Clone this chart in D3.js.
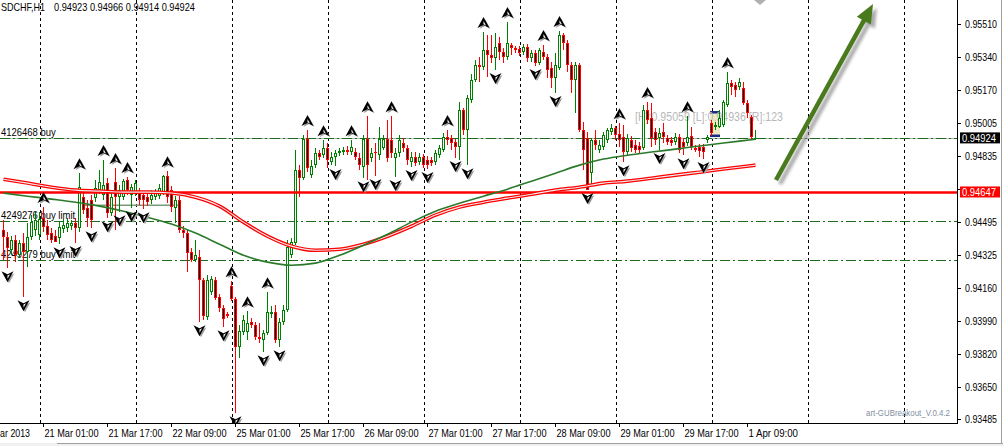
<!DOCTYPE html>
<html><head><meta charset="utf-8">
<script src="https://cdn.jsdelivr.net/npm/d3@7"></script>
<style>body{margin:0;background:#fff;overflow:hidden}svg{display:block;font-family:"Liberation Sans",Arial,sans-serif}</style>
</head><body><svg id="c" width="1003" height="446"></svg>
<script>
const symbolTitle = "SDCHF,H1";
const lastQuote = ["0.94923","0.94966","0.94914","0.94924"];
const opens = [0.94454,0.94418,0.94351,0.94403,0.94325,0.94388,0.94341,0.94418,0.94454,0.94428,0.94515,0.94474,0.94439,0.94423,0.94413,0.94459,0.94464,0.94474,0.94490,0.94464,0.94623,0.94567,0.94608,0.94618,0.94659,0.94633,0.94695,0.94541,0.94700,0.94623,0.94623,0.94710,0.94633,0.94649,0.94644,0.94633,0.94623,0.94608,0.94623,0.94628,0.94649,0.94731,0.94659,0.94567,0.94608,0.94454,0.94439,0.94341,0.94300,0.94315,0.94197,0.94008,0.94136,0.94197,0.94110,0.94054,0.94023,0.94167,0.94100,0.93854,0.93931,0.93931,0.93982,0.93967,0.93905,0.93890,0.93926,0.94023,0.94034,0.93890,0.93982,0.94044,0.94325,0.94388,0.94761,0.94720,0.94920,0.94736,0.94787,0.94849,0.94838,0.94874,0.94802,0.94828,0.94849,0.94854,0.94864,0.94854,0.94854,0.94823,0.94777,0.94920,0.94823,0.94854,0.94838,0.94874,0.94920,0.94915,0.94823,0.94849,0.94900,0.94874,0.94802,0.94828,0.94802,0.94828,0.94813,0.94813,0.94802,0.94838,0.94864,0.94931,0.94926,0.94905,0.94879,0.95069,0.94967,0.95120,0.95223,0.95300,0.95289,0.95377,0.95351,0.95336,0.95413,0.95367,0.95341,0.95402,0.95387,0.95382,0.95367,0.95392,0.95336,0.95361,0.95310,0.95367,0.95341,0.95284,0.95233,0.95284,0.95454,0.95413,0.95300,0.95223,0.95300,0.94967,0.94926,0.94746,0.94915,0.94864,0.94879,0.94915,0.94956,0.94977,0.94946,0.94931,0.94854,0.94915,0.94890,0.94885,0.94874,0.95069,0.95028,0.94956,0.94926,0.94956,0.94926,0.94915,0.94905,0.94931,0.94905,0.94900,0.94936,0.94874,0.94879,0.94879,0.94915,0.95002,0.94982,0.94982,0.94992,0.95095,0.95208,0.95197,0.95187,0.95182,0.95105,0.95033,0.94923];
const highs = [0.94505,0.94444,0.94423,0.94428,0.94403,0.94439,0.94490,0.94531,0.94546,0.94546,0.94572,0.94505,0.94464,0.94454,0.94495,0.94510,0.94515,0.94505,0.94515,0.94746,0.94659,0.94608,0.94633,0.94710,0.94761,0.94813,0.94720,0.94649,0.94772,0.94684,0.94715,0.94726,0.94690,0.94710,0.94669,0.94654,0.94644,0.94659,0.94664,0.94690,0.94736,0.94756,0.94679,0.94628,0.94628,0.94474,0.94454,0.94362,0.94403,0.94351,0.94208,0.94223,0.94218,0.94213,0.94126,0.94069,0.94034,0.94192,0.94110,0.93967,0.94018,0.94039,0.94003,0.93982,0.93977,0.93941,0.94136,0.94064,0.94069,0.94003,0.94069,0.94403,0.94413,0.94864,0.94787,0.94941,0.94967,0.94813,0.94874,0.94864,0.94915,0.94900,0.94854,0.94864,0.94874,0.94879,0.94885,0.94915,0.94874,0.94849,0.94941,0.95038,0.94874,0.94900,0.94982,0.94941,0.95018,0.95038,0.94874,0.94941,0.94926,0.94890,0.94854,0.94854,0.94849,0.94844,0.94833,0.94828,0.94864,0.94890,0.94951,0.94967,0.94941,0.94920,0.95110,0.95079,0.95146,0.95254,0.95325,0.95341,0.95469,0.95454,0.95454,0.95464,0.95443,0.95387,0.95520,0.95413,0.95397,0.95397,0.95408,0.95408,0.95377,0.95377,0.95387,0.95402,0.95356,0.95315,0.95361,0.95474,0.95464,0.95428,0.95315,0.95315,0.95310,0.95008,0.94956,0.94926,0.94967,0.94915,0.94956,0.94977,0.94997,0.94987,0.95002,0.94992,0.94946,0.94936,0.94915,0.94905,0.95095,0.95110,0.95105,0.94977,0.94977,0.95002,0.94941,0.94931,0.94951,0.94946,0.94926,0.95038,0.94982,0.94890,0.94895,0.94895,0.94941,0.95018,0.95008,0.95069,0.95120,0.95264,0.95223,0.95213,0.95233,0.95213,0.95120,0.95043,0.94966];
const lows = [0.94300,0.94259,0.94325,0.94290,0.94310,0.94110,0.94264,0.94403,0.94423,0.94403,0.94444,0.94403,0.94388,0.94398,0.94382,0.94439,0.94444,0.94454,0.94388,0.94444,0.94536,0.94469,0.94464,0.94597,0.94638,0.94608,0.94515,0.94526,0.94454,0.94546,0.94608,0.94633,0.94567,0.94628,0.94582,0.94561,0.94577,0.94587,0.94608,0.94613,0.94633,0.94592,0.94546,0.94490,0.94439,0.94413,0.94239,0.94290,0.94290,0.93982,0.93992,0.93992,0.94120,0.94095,0.94034,0.93956,0.94003,0.94090,0.93516,0.93798,0.93915,0.93890,0.93951,0.93890,0.93875,0.93829,0.93915,0.94003,0.93875,0.93854,0.93967,0.94034,0.94310,0.94377,0.94623,0.94710,0.94751,0.94720,0.94772,0.94813,0.94823,0.94772,0.94787,0.94782,0.94833,0.94838,0.94838,0.94838,0.94813,0.94761,0.94720,0.94710,0.94802,0.94731,0.94813,0.94864,0.94802,0.94823,0.94726,0.94828,0.94854,0.94787,0.94777,0.94782,0.94787,0.94772,0.94767,0.94782,0.94787,0.94823,0.94854,0.94890,0.94864,0.94823,0.94813,0.94941,0.94787,0.95105,0.95213,0.95213,0.95274,0.95238,0.95310,0.95274,0.95325,0.95310,0.95325,0.95351,0.95361,0.95346,0.95351,0.95315,0.95315,0.95295,0.95300,0.95325,0.95233,0.95182,0.95156,0.95274,0.95377,0.95264,0.95156,0.95054,0.94956,0.94761,0.94659,0.94679,0.94864,0.94849,0.94864,0.94900,0.94941,0.94915,0.94879,0.94802,0.94838,0.94854,0.94849,0.94849,0.94864,0.94997,0.94879,0.94890,0.94864,0.94900,0.94890,0.94885,0.94890,0.94849,0.94838,0.94885,0.94864,0.94854,0.94828,0.94818,0.94900,0.94936,0.94967,0.94977,0.94982,0.95084,0.95146,0.95136,0.95172,0.95095,0.95028,0.94915,0.94914];
const closes = [0.94418,0.94362,0.94403,0.94325,0.94388,0.94341,0.94418,0.94495,0.94505,0.94510,0.94469,0.94428,0.94403,0.94392,0.94469,0.94480,0.94490,0.94490,0.94464,0.94674,0.94556,0.94515,0.94505,0.94669,0.94700,0.94684,0.94541,0.94623,0.94623,0.94659,0.94705,0.94659,0.94674,0.94695,0.94608,0.94608,0.94597,0.94633,0.94644,0.94669,0.94731,0.94623,0.94572,0.94608,0.94454,0.94439,0.94336,0.94300,0.94325,0.94197,0.94013,0.94197,0.94203,0.94105,0.94054,0.93997,0.94013,0.94100,0.93854,0.93936,0.93992,0.93977,0.93967,0.93905,0.93895,0.93926,0.94034,0.94034,0.93890,0.93982,0.94044,0.94367,0.94392,0.94761,0.94720,0.94920,0.94772,0.94782,0.94849,0.94828,0.94874,0.94813,0.94828,0.94849,0.94859,0.94864,0.94854,0.94879,0.94828,0.94787,0.94920,0.94787,0.94849,0.94849,0.94920,0.94920,0.94823,0.94849,0.94849,0.94915,0.94874,0.94813,0.94828,0.94797,0.94828,0.94787,0.94787,0.94797,0.94849,0.94874,0.94931,0.94915,0.94900,0.94879,0.95069,0.94967,0.95131,0.95223,0.95300,0.95289,0.95377,0.95351,0.95336,0.95392,0.95367,0.95341,0.95413,0.95387,0.95377,0.95361,0.95392,0.95336,0.95361,0.95310,0.95377,0.95341,0.95274,0.95233,0.95300,0.95454,0.95413,0.95300,0.95223,0.95300,0.94967,0.94864,0.94659,0.94915,0.94890,0.94890,0.94941,0.94967,0.94977,0.94941,0.94915,0.94854,0.94926,0.94874,0.94864,0.94864,0.95069,0.95018,0.94926,0.94915,0.94951,0.94931,0.94905,0.94900,0.94931,0.94864,0.94879,0.94931,0.94879,0.94864,0.94859,0.94854,0.94931,0.94951,0.94992,0.95028,0.95110,0.95208,0.95187,0.95172,0.95213,0.95105,0.95054,0.94931,0.94924];
const upFractals = [10,19,25,28,31,41,57,61,66,76,80,87,91,97,111,120,126,135,139,154,161,171,181];
const downFractals = [1,5,14,18,22,26,29,32,35,49,55,58,65,69,83,90,93,98,102,106,113,116,123,133,138,146,155,164,170,175];
const maBars = [0,6,12,18,24,30,36,42,48,54,60,66,72,78,84,90,96,102,108,114,120,126,132,138,144,150,156,162,168,174,180,188];
const maSlow = [0.94715,0.94695,0.94674,0.94659,0.94654,0.94649,0.94649,0.94644,0.94623,0.94577,0.94495,0.94423,0.94372,0.94351,0.94356,0.94382,0.94423,0.94474,0.94531,0.94572,0.94597,0.94618,0.94638,0.94659,0.94674,0.94695,0.94705,0.94720,0.94736,0.94751,0.94767,0.94787];
const maFast = [0.94644,0.94628,0.94613,0.94597,0.94577,0.94551,0.94520,0.94485,0.94439,0.94382,0.94325,0.94290,0.94274,0.94285,0.94325,0.94377,0.94433,0.94495,0.94551,0.94592,0.94628,0.94664,0.94705,0.94746,0.94787,0.94818,0.94838,0.94854,0.94869,0.94885,0.94900,0.94920];
const xLabelBars = [-6,10,26,42,58,74,90,106,122,138,154,170,186];
const xLabelTexts = ["20 Mar 2013","21 Mar 01:00","21 Mar 17:00","22 Mar 09:00","25 Mar 01:00","25 Mar 17:00","26 Mar 09:00","27 Mar 01:00","27 Mar 17:00","28 Mar 09:00","29 Mar 01:00","29 Mar 17:00","1 Apr 09:00"];
const yTicks = [0.95510,0.95340,0.95170,0.95005,0.94835,0.94665,0.94495,0.94325,0.94160,0.93990,0.93820,0.93650,0.93485];
const bidPrice = 0.94924;
const levelPrice = 0.94647;
const orderPrices = [0.94926,0.94499,0.94300];
const orderLabels = ["4126468 buy","4249276 buy limit","4249279 buy limit"];
const rangeBars = [19.75, 44.25];
const rangePrice = 0.94582;
const boxBars = [177,179];
const boxHigh = 0.95059, boxLow = 0.94936;
const boxText = "[H]:0.95059 [L]:0.94936 [R]:123";
const footer = "art-GUBreakout_V.0.4.2";

const svg = d3.select('#c');
const PR = 957, PB = 423;
const x = d3.scaleLinear().domain([0,188]).range([3,755]);
const y = d3.scaleLinear().domain([0.93485,0.95510]).range([419.3,24]);
const defs = svg.append('defs');
defs.append('clipPath').attr('id','plot').append('rect').attr('x',0).attr('y',0).attr('width',PR).attr('height',PB);
defs.append('filter').attr('id','blur').attr('x','-20%').attr('y','-20%').attr('width','140%').attr('height','140%')
  .append('feGaussianBlur').attr('stdDeviation',1.6);

svg.append('rect').attr('width',1003).attr('height',446).attr('fill','#fff');
const plot = svg.append('g').attr('clip-path','url(#plot)');

// grid
const gridBars = d3.range(9.25, 240, 24);
plot.selectAll('line.grid').data(gridBars).join('line')
  .attr('x1',d=>Math.round(x(d))+0.5).attr('x2',d=>Math.round(x(d))+0.5)
  .attr('y1',0).attr('y2',PB).attr('stroke','#000').attr('stroke-width',1).attr('stroke-dasharray','3,3');

// bid line
plot.append('line').attr('x1',0).attr('x2',PR).attr('y1',Math.round(y(bidPrice))+0.5).attr('y2',Math.round(y(bidPrice))+0.5)
  .attr('stroke','#b4b4b4').attr('stroke-width',1);
// order lines
plot.selectAll('line.order').data(orderPrices).join('line')
  .attr('x1',0).attr('x2',PR).attr('y1',d=>Math.round(y(d))+0.5).attr('y2',d=>Math.round(y(d))+0.5)
  .attr('stroke','#1e6b1e').attr('stroke-width',1).attr('stroke-dasharray','10,3,2,3');
plot.selectAll('text.order').data(orderLabels).join('text')
  .attr('x',1).attr('y',(d,i)=>Math.round(y(orderPrices[i]))-2)
  .attr('font-size',11).attr('fill','#000').text(d=>d)
  .each(function(){ const w=this.getComputedTextLength(); d3.select(this).attr('textLength',w*0.86).attr('lengthAdjust','spacingAndGlyphs'); });

// range line
plot.append('line').attr('x1',x(rangeBars[0])).attr('x2',x(rangeBars[1])).attr('y1',y(rangePrice)).attr('y2',y(rangePrice))
  .attr('stroke','#7a9a7a').attr('stroke-width',1.5);

// breakout box
const bx0 = x(boxBars[0])-1, bx1 = x(boxBars[1])+1;
plot.append('rect').attr('x',bx0).attr('y',y(boxHigh)).attr('width',bx1-bx0).attr('height',y(boxLow)-y(boxHigh)).attr('fill','#eeeac4');
plot.append('rect').attr('x',bx0).attr('y',y(boxHigh)-1).attr('width',bx1-bx0).attr('height',2.5).attr('fill','#1a2a80');
plot.append('rect').attr('x',bx0).attr('y',y(boxLow)-1.5).attr('width',bx1-bx0).attr('height',2.5).attr('fill','#1a2a80');
plot.append('text').attr('x',635).attr('y',121).attr('font-size',12).attr('fill','#b8b8b8')
  .attr('textLength',148).attr('lengthAdjust','spacingAndGlyphs').text(boxText);

// candles
const idx = d3.range(opens.length);
const cg = plot.append('g').attr('shape-rendering','crispEdges');
idx.forEach(i=>{
  const o=opens[i], h=highs[i], l=lows[i], c=closes[i];
  const bull = c>=o;
  const col = bull ? '#008000' : '#ff0000';
  const cx = Math.round(x(i));
  const yh = Math.round(y(h)), yl = Math.round(y(l));
  cg.append('rect').attr('x',cx).attr('y',yh).attr('width',1).attr('height',Math.max(1,yl-yh)).attr('fill',col);
  const t = Math.round(y(Math.max(o,c))), b = Math.round(y(Math.min(o,c)));
  const hh = Math.max(1,b-t);
  cg.append('rect').attr('x',cx-1).attr('y',t).attr('width',3).attr('height',hh).attr('fill',col);
  if (hh>2) cg.append('rect').attr('x',cx).attr('y',t+1).attr('width',1).attr('height',hh-2).attr('fill',bull?'#fff':'#000');
});

// red level line
plot.append('line').attr('x1',0).attr('x2',PR).attr('y1',y(levelPrice)).attr('y2',y(levelPrice))
  .attr('stroke','#ff0000').attr('stroke-width',2.6);

// moving averages
const line = d3.line().x((d,i)=>x(maBars[i])+0.5).y(d=>y(d)).curve(d3.curveMonotoneX);
plot.append('path').attr('d',line(maSlow)).attr('fill','none').attr('stroke','#ff0000').attr('stroke-width',3.6);
plot.append('path').attr('d',line(maSlow)).attr('fill','none').attr('stroke','#ececec').attr('stroke-width',1.1);
plot.append('path').attr('d',line(maFast)).attr('fill','none').attr('stroke','#2a7a2a').attr('stroke-width',1.6);

// fractal markers
const mg = plot.append('g');
upFractals.forEach(i=>{
  const cx = x(i)+0.5, cy = y(highs[i])-9;
  mg.append('path').attr('d',`M${cx+1.5},${cy-4}L${cx+7},${cy+6}L${cx+1.5},${cy+3}L${cx-4},${cy+6}Z`).attr('fill','#a0a0a0');
  mg.append('path').attr('d',`M${cx},${cy-6}L${cx+6},${cy+5}L${cx},${cy+2}L${cx-6},${cy+5}Z`).attr('fill','#000');
  mg.append('path').attr('d',`M${cx},${cy-2}L${cx+2.5},${cy+2.5}L${cx},${cy+1.2}Z`).attr('fill','#fff');
});
downFractals.forEach(i=>{
  const cx = x(i)+0.5, cy = y(lows[i])+8;
  mg.append('path').attr('d',`M${cx-4},${cy-3}L${cx+1.5},${cy}L${cx+7},${cy-3}L${cx+1.5},${cy+7}Z`).attr('fill','#a0a0a0');
  mg.append('path').attr('d',`M${cx-6},${cy-5}L${cx},${cy-2}L${cx+6},${cy-5}L${cx},${cy+6}Z`).attr('fill','#000');
  mg.append('path').attr('d',`M${cx},${cy-0.8}L${cx+2.5},${cy-2}L${cx},${cy+2.5}Z`).attr('fill','#fff');
});

// small marker at top
plot.append('path').attr('d','M754,0L766,0L760,5Z').attr('fill','#b0b0b0');

// big arrow
const ax0=776, ay0=180, ax1=873, ay1=4;
const dx=ax1-ax0, dy=ay1-ay0, len=Math.hypot(dx,dy), ux=dx/len, uy=dy/len;
const bxh=ax1-ux*19, byh=ay1-uy*19, px=-uy, py=ux;
const head=`M${ax1},${ay1}L${bxh+px*8},${byh+py*8}L${bxh-px*8},${byh-py*8}Z`;
const sh = plot.append('g').attr('transform','translate(4,4)').attr('filter','url(#blur)').attr('opacity',0.7);
sh.append('line').attr('x1',ax0).attr('y1',ay0).attr('x2',bxh).attr('y2',byh).attr('stroke','#888').attr('stroke-width',4.5);
sh.append('path').attr('d',head).attr('fill','#888');
plot.append('line').attr('x1',ax0).attr('y1',ay0).attr('x2',bxh+ux*2).attr('y2',byh+uy*2).attr('stroke','#4a7a1e').attr('stroke-width',4.5);
plot.append('path').attr('d',head).attr('fill','#4a7a1e');

// header & footer
plot.append('text').attr('x',1).attr('y',11).attr('font-size',11).attr('fill','#000')
  .attr('textLength',44).attr('lengthAdjust','spacingAndGlyphs').text(symbolTitle);
plot.append('text').attr('x',54).attr('y',11).attr('font-size',11).attr('fill','#000')
  .attr('textLength',141).attr('lengthAdjust','spacingAndGlyphs').text(lastQuote.join(' '));
plot.append('text').attr('x',866).attr('y',416).attr('font-size',9).attr('fill','#7f8fa0')
  .attr('textLength',84).attr('lengthAdjust','spacingAndGlyphs').text(footer);

// axes
const ax = svg.append('g').attr('shape-rendering','crispEdges');
ax.append('line').attr('x1',PR+0.5).attr('x2',PR+0.5).attr('y1',0).attr('y2',PB+1).attr('stroke','#000');
ax.append('line').attr('x1',0).attr('x2',PR+1).attr('y1',PB+0.5).attr('y2',PB+0.5).attr('stroke','#000');
yTicks.forEach(v=>{
  const yy = Math.round(y(v))+0.5;
  ax.append('line').attr('x1',PR+1).attr('x2',PR+4).attr('y1',yy).attr('y2',yy).attr('stroke','#000');
  if (Math.abs(y(v)-y(levelPrice))<8) return; // hidden behind the level tag
  svg.append('text').attr('x',965).attr('y',yy+3.5).attr('font-size',10).attr('fill','#000')
    .attr('textLength',32).attr('lengthAdjust','spacingAndGlyphs').text(d3.format('.5f')(v));
});
xLabelBars.forEach((b,k)=>{
  const xx = Math.round(x(b))+0.5;
  ax.append('line').attr('x1',xx).attr('x2',xx).attr('y1',PB+1).attr('y2',PB+4).attr('stroke','#000');
  svg.append('text').attr('x',xx+1).attr('y',437).attr('font-size',10).attr('fill','#000')
    .attr('textLength',xLabelTexts[k].length*4.5).attr('lengthAdjust','spacingAndGlyphs').text(xLabelTexts[k]);
});
// price labels on axis
function priceTag(v, bg){
  const yy = y(v);
  svg.append('rect').attr('x',960).attr('y',yy-6).attr('width',40).attr('height',11).attr('fill',bg);
  svg.append('text').attr('x',962).attr('y',yy+3.5).attr('font-size',10).attr('fill','#fff')
    .attr('textLength',34).attr('lengthAdjust','spacingAndGlyphs').text(d3.format('.5f')(v));
}
priceTag(bidPrice,'#000');
priceTag(levelPrice,'#ff0000');

// window edges
svg.append('rect').attr('x',0).attr('y',443).attr('width',1003).attr('height',3).attr('fill','#f0f0f0');
svg.append('line').attr('x1',57).attr('x2',1003).attr('y1',443.5).attr('y2',443.5).attr('stroke','#a0a0a0');
svg.append('line').attr('x1',1001.5).attr('x2',1001.5).attr('y1',0).attr('y2',443).attr('stroke','#a0a0a0');
</script></body></html>
